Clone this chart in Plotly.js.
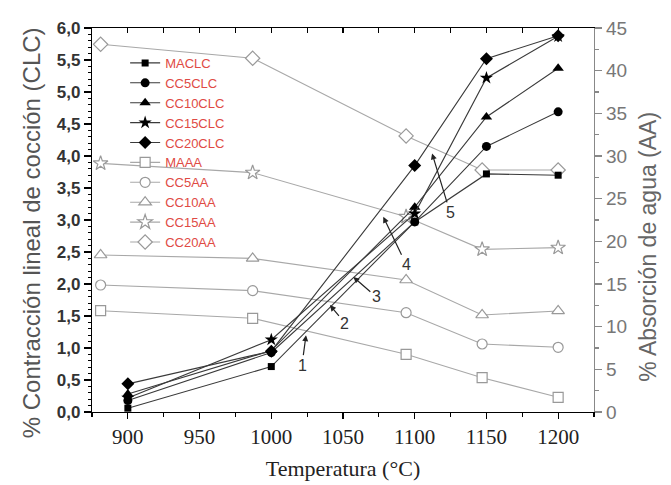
<!DOCTYPE html>
<html>
<head>
<meta charset="utf-8">
<script src="https://cdn.plot.ly/plotly-3.0.1.min.js"></script>
<style>html,body{margin:0;padding:0;background:#fff;}#chart{width:671px;height:485px;}</style>
</head>
<body>
<div id="chart"></div>
<script>
// Temperatures (°C) for the shrinkage (CLC) series
var tempCLC = [900, 1000, 1100, 1150, 1200];
// Temperatures as plotted for the water absorption (AA) series
var tempAA = [881, 987, 1094, 1147, 1200];

// % Contracción lineal de cocción (CLC)
var MACLC   = [0.06, 0.71, 2.97, 3.72, 3.70];
var CC5CLC  = [0.18, 0.93, 2.97, 4.15, 4.69];
var CC10CLC = [0.28, 0.96, 3.20, 4.61, 5.37];
var CC15CLC = [0.22, 1.13, 3.10, 5.22, 5.87];
var CC20CLC = [0.44, 0.95, 3.85, 5.52, 5.88];

// % Absorción de agua (AA)
var MAAA   = [11.87, 10.98, 6.76, 4.02, 1.72];
var CC5AA  = [14.88, 14.22, 11.64, 7.97, 7.58];
var CC10AA = [18.40, 18.00, 15.47, 11.37, 11.84];
var CC15AA = [29.14, 28.05, 22.89, 19.06, 19.26];
var CC20AA = [43.09, 41.45, 32.35, 28.36, 28.36];

var clcNames = ['MACLC', 'CC5CLC', 'CC10CLC', 'CC15CLC', 'CC20CLC'];
var aaNames  = ['MAAA', 'CC5AA', 'CC10AA', 'CC15AA', 'CC20AA'];
var clcVals = [MACLC, CC5CLC, CC10CLC, CC15CLC, CC20CLC];
var aaVals  = [MAAA, CC5AA, CC10AA, CC15AA, CC20AA];
var clcSym = ['square', 'circle', 'triangle-up', 'star', 'diamond'];
var clcSize = [7, 9, 10, 10, 10];
var aaSym = ['square', 'circle', 'triangle-up', 'star', 'diamond'];
var aaSize = [10, 10, 11, 11, 11];

// Annotation labels for arrows
var arrowLabels = ['1', '2', '3', '4', '5'];

var traces = [];
for (var i = 0; i < 5; i++) {
  traces.push({
    x: tempAA, y: aaVals[i], name: aaNames[i], type: 'scatter', mode: 'lines+markers',
    xaxis: 'x', yaxis: 'y', legendrank: 6 + i,
    line: {color: '#a8a8a8', width: 1.1},
    marker: {symbol: aaSym[i], size: aaSize[i], color: '#ffffff', line: {color: '#999999', width: 1.2}}
  });
}
for (var j = 0; j < 5; j++) {
  traces.push({
    x: tempCLC, y: clcVals[j], name: clcNames[j], type: 'scatter', mode: 'lines+markers',
    xaxis: 'x', yaxis: 'y2', legendrank: 1 + j,
    line: {color: '#3a3a3a', width: 1.1},
    marker: {symbol: clcSym[j], size: clcSize[j], color: '#000000'}
  });
}
traces.push({x: [], y: [], xaxis: 'x2', yaxis: 'y', showlegend: false, hoverinfo: 'skip'});

// arrow tips (data coords on CLC axis) and label offsets (px)
var arrowTipX = [1024.2, 1040.9, 1057.2, 1078.1, 1112.1];
var arrowTipY = [1.20, 1.67, 2.11, 3.05, 4.04];
var arrowAX = [-4, 15, 23, 23, 18];
var arrowAY = [30, 18, 20, 48, 59];
var annotations = [];
for (var k = 0; k < 5; k++) {
  annotations.push({
    x: arrowTipX[k], y: arrowTipY[k], xref: 'x', yref: 'y2',
    text: arrowLabels[k], showarrow: true, ax: arrowAX[k], ay: arrowAY[k],
    arrowhead: 2, arrowsize: 1, arrowwidth: 1.2, arrowcolor: '#222', standoff: 0,
    font: {family: 'Arial, Liberation Sans', size: 16, color: '#333'}
  });
}
annotations.push({
  xref: 'paper', yref: 'paper', x: -0.152, y: 0.466, showarrow: false, textangle: -90,
  text: '% Contracción lineal de cocción (CLC)',
  font: {family: 'Arial, Liberation Sans', size: 24, color: '#555'}
});
annotations.push({
  xref: 'paper', yref: 'paper', x: 1.137, y: 0.43, showarrow: false, textangle: -90,
  text: '% Absorción de agua (AA)',
  font: {family: 'Arial, Liberation Sans', size: 23, color: '#666'}
});

var layout = {
  width: 671, height: 485,
  margin: {l: 92, r: 77, t: 28, b: 73},
  paper_bgcolor: '#fff', plot_bgcolor: '#fff',
  separators: ',.',
  showlegend: true,
  legend: {
    x: 0.066, y: 0.948, xanchor: 'left', yanchor: 'top',
    bgcolor: 'rgba(0,0,0,0)', borderwidth: 0, tracegroupgap: 0,
    font: {family: 'Arial, Liberation Sans', size: 13, color: '#e04a44'}
  },
  xaxis: {
    range: [875, 1225], tick0: 900, dtick: 50, ticks: 'outside', ticklen: 6, tickwidth: 1.2,
    tickcolor: '#000', showline: true, linecolor: '#000', linewidth: 1.2,
    showgrid: false, zeroline: false, anchor: 'y',
    minor: {dtick: 25, tick0: 900, ticks: 'outside', ticklen: 4, tickcolor: '#000'},
    tickfont: {family: 'Liberation Serif, Times New Roman', size: 21, color: '#222'},
    title: {text: 'Temperatura (°C)', font: {family: 'Liberation Serif, Times New Roman', size: 22, color: '#222'}, standoff: 12}
  },
  xaxis2: {
    range: [875, 1225], overlaying: 'x', side: 'top', anchor: 'y', tick0: 900, dtick: 25,
    ticks: 'inside', ticklen: 5, tickwidth: 1.2, tickcolor: '#000', showticklabels: false,
    showline: true, linecolor: '#000', linewidth: 1.2, showgrid: false, zeroline: false
  },
  yaxis: {
    range: [0, 45], side: 'right', dtick: 5, ticks: 'outside', ticklen: 7, tickwidth: 1.2,
    tickcolor: '#888', showline: true, linecolor: '#888', linewidth: 1.2,
    showgrid: false, zeroline: false,
    minor: {dtick: 2.5, ticks: 'outside', ticklen: 4, tickcolor: '#888'},
    tickfont: {family: 'Arial, Liberation Sans', size: 19, color: '#777'}
  },
  yaxis2: {
    range: [0, 6], overlaying: 'y', side: 'left', anchor: 'x', dtick: 0.5, tickformat: '.1f',
    ticks: 'outside', ticklen: 7, tickwidth: 1.2, tickcolor: '#000',
    showline: true, linecolor: '#000', linewidth: 1.2, showgrid: false, zeroline: false,
    minor: {dtick: 0.1, ticks: 'outside', ticklen: 3, tickcolor: '#000'},
    tickfont: {family: 'Arial, Liberation Sans', size: 17, color: '#333', weight: 'bold'}
  },
  annotations: annotations
};

Plotly.newPlot('chart', traces, layout, {staticPlot: true, displayModeBar: false});
</script>
</body>
</html>
